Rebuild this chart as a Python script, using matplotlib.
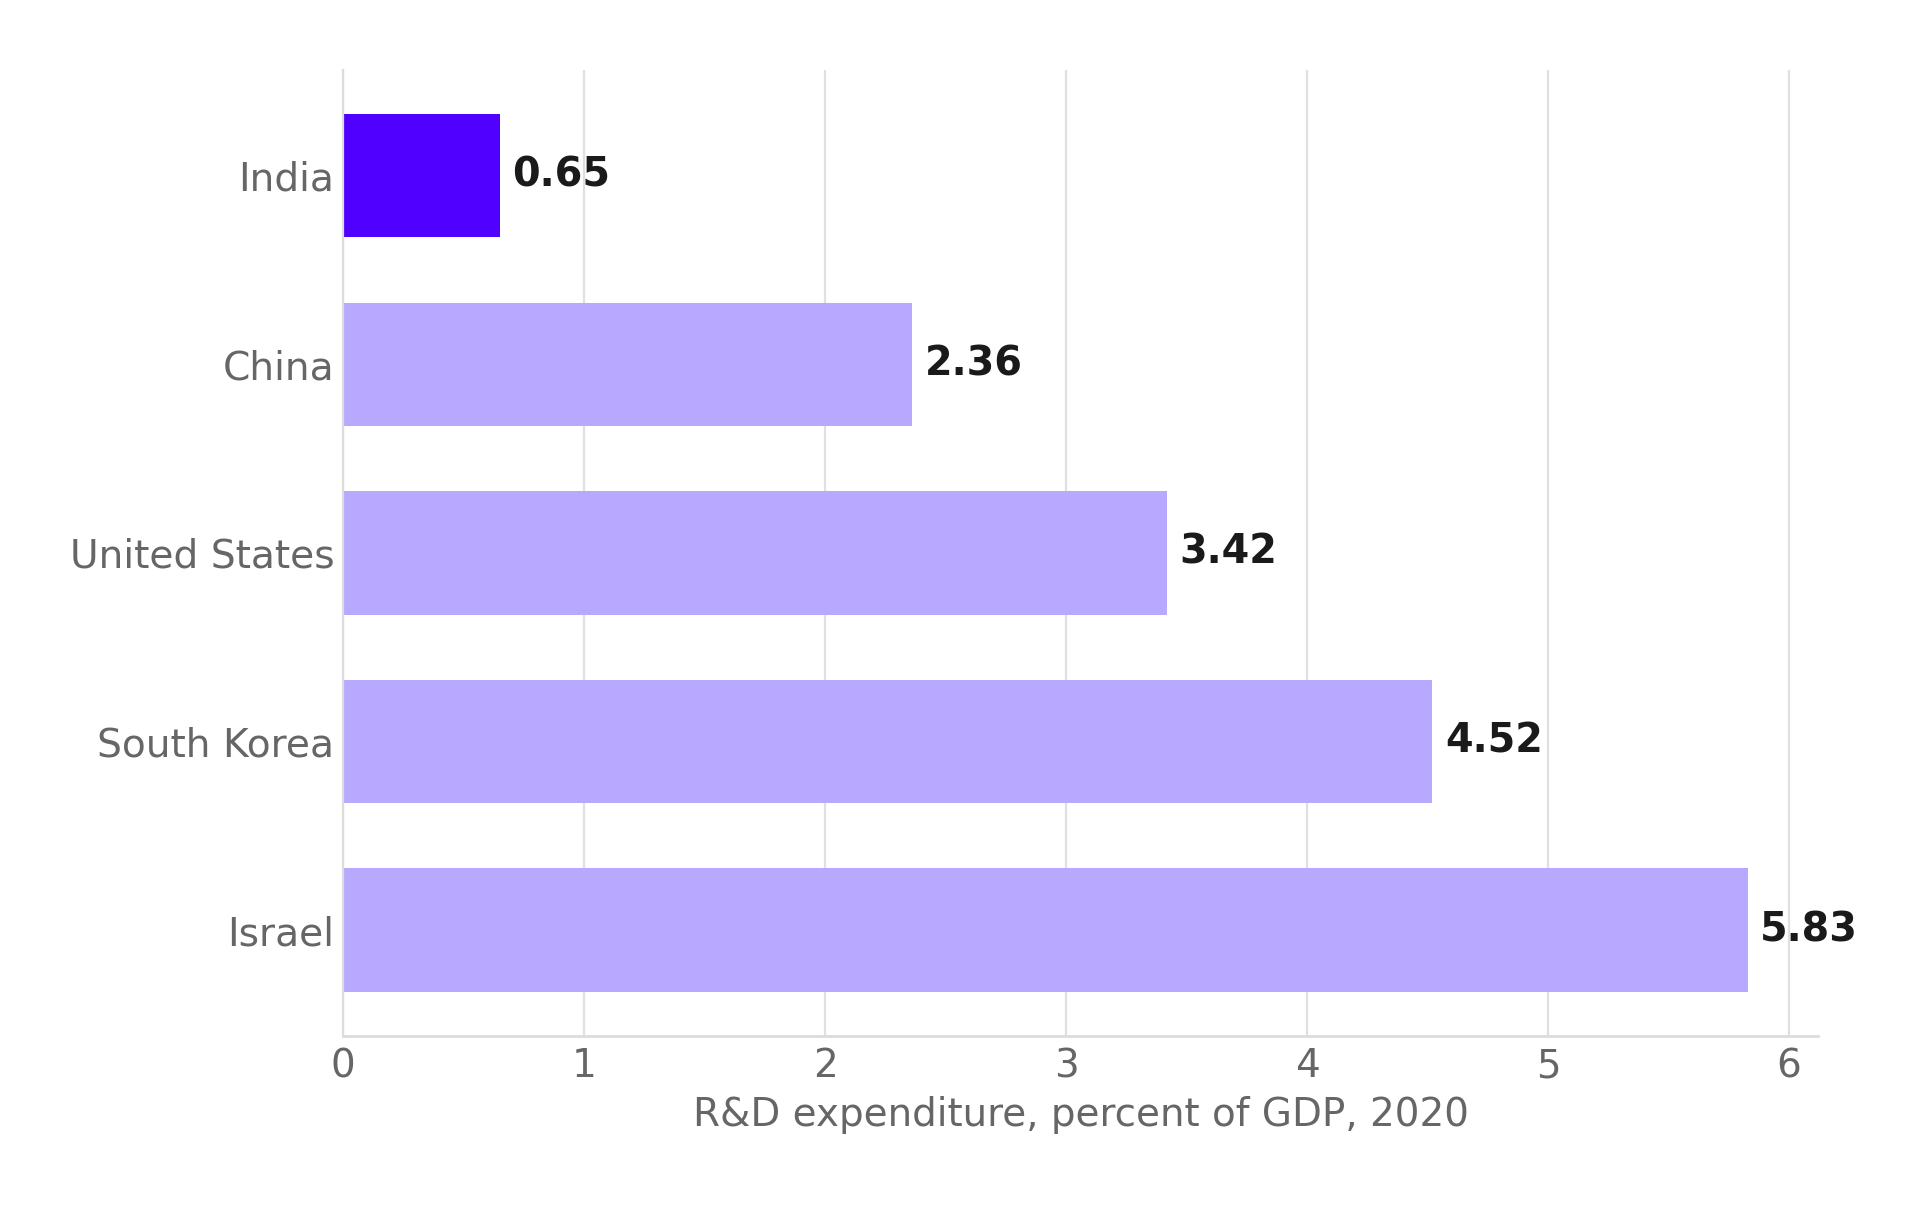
import matplotlib.pyplot as plt

countries = ["India", "China", "United States", "South Korea", "Israel"]
values = [0.65, 2.36, 3.42, 4.52, 5.83]
highlight = "India"

fig = plt.figure(figsize=(9.645, 6.03), dpi=200)
ax = fig.add_axes([0.178, 0.141, 0.7645, 0.801])

colors = ["#5000ff" if c == highlight else "#b8a9ff" for c in countries]
bars = ax.barh(countries, values, height=0.655, color=colors, zorder=2)
ax.invert_yaxis()

# value labels next to the bars
ax.bar_label(bars, labels=[f"{v:.2f}" for v in values], padding=4.5,
             fontsize=14.3, fontweight="bold", color="#1a1a1a")

ax.set_xlabel("R&D expenditure, percent of GDP, 2020", fontsize=14, color="#666666", labelpad=4)
ax.tick_params(axis="both", length=0, labelcolor="#666666")
ax.tick_params(axis="x", pad=4, labelsize=14)
ax.tick_params(axis="y", pad=3.2, labelsize=14.1)

ax.grid(axis="x", color="#e0e0e0", linewidth=0.8, zorder=0)
for side in ["top", "right"]:
    ax.spines[side].set_visible(False)
ax.spines["left"].set_color("#dcdcdc")
ax.spines["bottom"].set_color("#dcdcdc")
ax.spines["bottom"].set_linewidth(1.0)

fig.savefig("out.png", dpi=200)
